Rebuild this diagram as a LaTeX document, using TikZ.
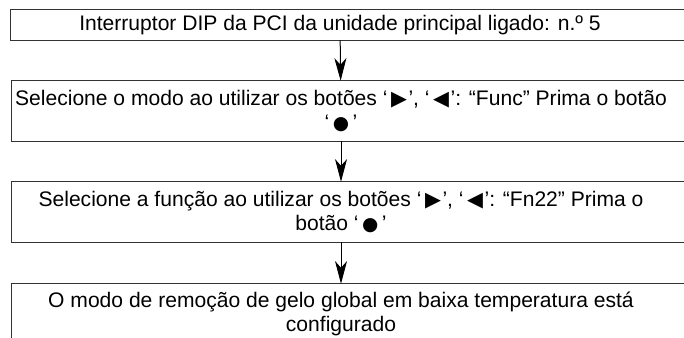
\documentclass[tikz,border=0pt]{standalone}
\usepackage{fontspec}
\setmainfont{Liberation Sans}
\newfontfamily\symfont{DejaVu Sans}
\usetikzlibrary{arrows.meta}

\newcommand{\btn}[1]{{\symfont\fontsize{15.5pt}{18pt}\selectfont #1}\kern1.2pt}
\newcommand{\dotbtn}{{\symfont\fontsize{14pt}{18pt}\selectfont ●}}

\begin{document}
\begin{tikzpicture}[x=0.75pt,y=0.75pt,yscale=-1,xscale=1,
  stepbox/.style={minimum width=493.5pt,inner sep=0pt,align=center,
    font=\fontsize{15.8pt}{18pt}\selectfont},
  frame/.style={draw=black!80,line width=0.75pt},
  flow/.style={draw=black,line width=0.75pt,-{Stealth[length=17pt,width=9pt,inset=5pt]}}]
\useasboundingbox (0,0) rectangle (684,337);
\clip (0,0) rectangle (684,337);

% Text Node
\node[stepbox,minimum height=22.5pt] (dip) at (340,25) {Interruptor DIP da PCI da unidade principal ligado: n.º 5};
% Text Node
\node[stepbox,minimum height=45pt] (modo) at (341,111) {Selecione o modo ao utilizar os botões ‘\,\btn{▶}’, ‘\,\btn{◀}’: “Func” Prima o botão\\ ‘\,\dotbtn\,’};
% Text Node
\node[stepbox,minimum height=45pt] (funcao) at (341,212) {Selecione a função ao utilizar os botões ‘\,\btn{▶}’, ‘\,\btn{◀}’: “Fn22” Prima o\\ botão ‘\,\dotbtn\,’};
% Text Node
\node[stepbox,minimum height=45pt] (gelo) at (341,314) {O modo de remoção de gelo global em baixa temperatura está\\ configurado};

%Boxes
\foreach \n in {dip,modo,funcao,gelo}
  \draw[frame] (\n.north west) rectangle ([xshift=30pt]\n.south east);

%Straight Lines
\draw[flow] (dip) -- (modo);
\draw[flow] (modo) -- (funcao);
\draw[flow] (funcao) -- (gelo);

\end{tikzpicture}
\end{document}
